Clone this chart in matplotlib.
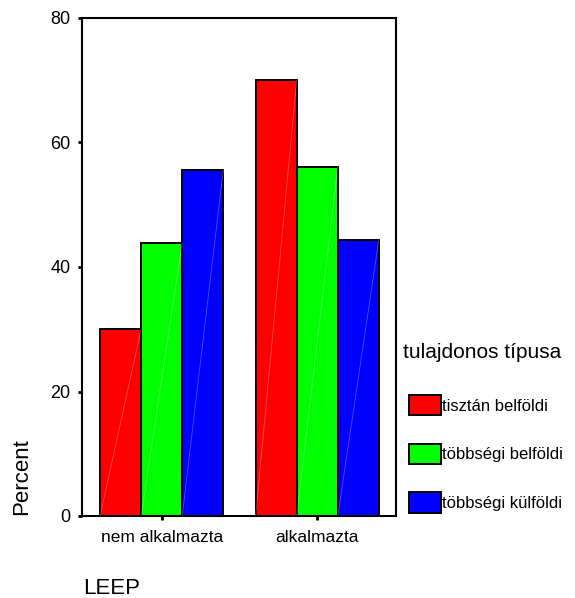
import matplotlib
matplotlib.use("Agg")
from matplotlib import pyplot as plt
import numpy as np

plt.rcParams['font.family'] = ['Liberation Sans', 'DejaVu Sans']

# data (percent within owner type)
categories = ["nem alkalmazta", "alkalmazta"]
series_names = ["tisztán belföldi", "többségi belföldi", "többségi külföldi"]
series_colors = ["#ff0000", "#00ff00", "#0000ff"]
tisztan_belfoldi = [30.0, 70.0]
tobbsegi_belfoldi = [43.9, 56.1]
tobbsegi_kulfoldi = [55.6, 44.4]
y_ticks = [0, 20, 40, 60, 80]

W, H = 575, 598
fig = plt.figure(figsize=(W / 100, H / 100), dpi=100)
ax = fig.add_axes([81.7 / W, 1 - 516 / H, (396 - 81.7) / W, (516 - 18) / H])

x = np.arange(len(categories))
width = 0.264
values = [tisztan_belfoldi, tobbsegi_belfoldi, tobbsegi_kulfoldi]
handles = []
for i, (vals, name, col) in enumerate(zip(values, series_names, series_colors)):
    bars = ax.bar(x + (i - 1) * width, vals, width, color=col, edgecolor='black',
                  linewidth=1.4, label=name, zorder=2)
    handles.append(bars)
    # faint diagonal highlight like the original rendering
    for p in bars.patches:
        ax.plot([p.get_x(), p.get_x() + p.get_width()], [0, p.get_height()],
                color='white', lw=0.6, alpha=0.3, zorder=3)

ax.set_xlim(-0.514, 1.506)
ax.set_ylim(0, 80)
ax.set_xticks(x)
ax.set_xticklabels(categories, fontsize=12.5)
ax.set_yticks(y_ticks)
ax.set_yticklabels([str(t) for t in y_ticks], fontsize=13)
ax.tick_params(axis='y', direction='out', length=3, width=2, pad=5)
ax.tick_params(axis='x', direction='out', length=3, width=2, pad=7)
for s in ax.spines.values():
    s.set_linewidth(1.5)

# axis titles
fig.text(22 / W, 1 - 477 / H, "Percent", rotation=90, ha='center', va='center',
         fontsize=16)
fig.text(83 / W, 1 - 589 / H, "LEEP", ha='left', va='center', fontsize=16)

# legend
fig.text(403 / W, 1 - 352 / H, "tulajdonos típusa", ha='left', va='center',
         fontsize=15)
fig.legend(handles=handles, labels=series_names, loc='upper left',
           bbox_to_anchor=(409 / W, 1 - 395 / H), frameon=False, fontsize=12,
           handlelength=1.9, handleheight=1.5, handletextpad=0.05,
           labelspacing=1.7, borderpad=0, borderaxespad=0)

fig.savefig("out.png", dpi=100)
